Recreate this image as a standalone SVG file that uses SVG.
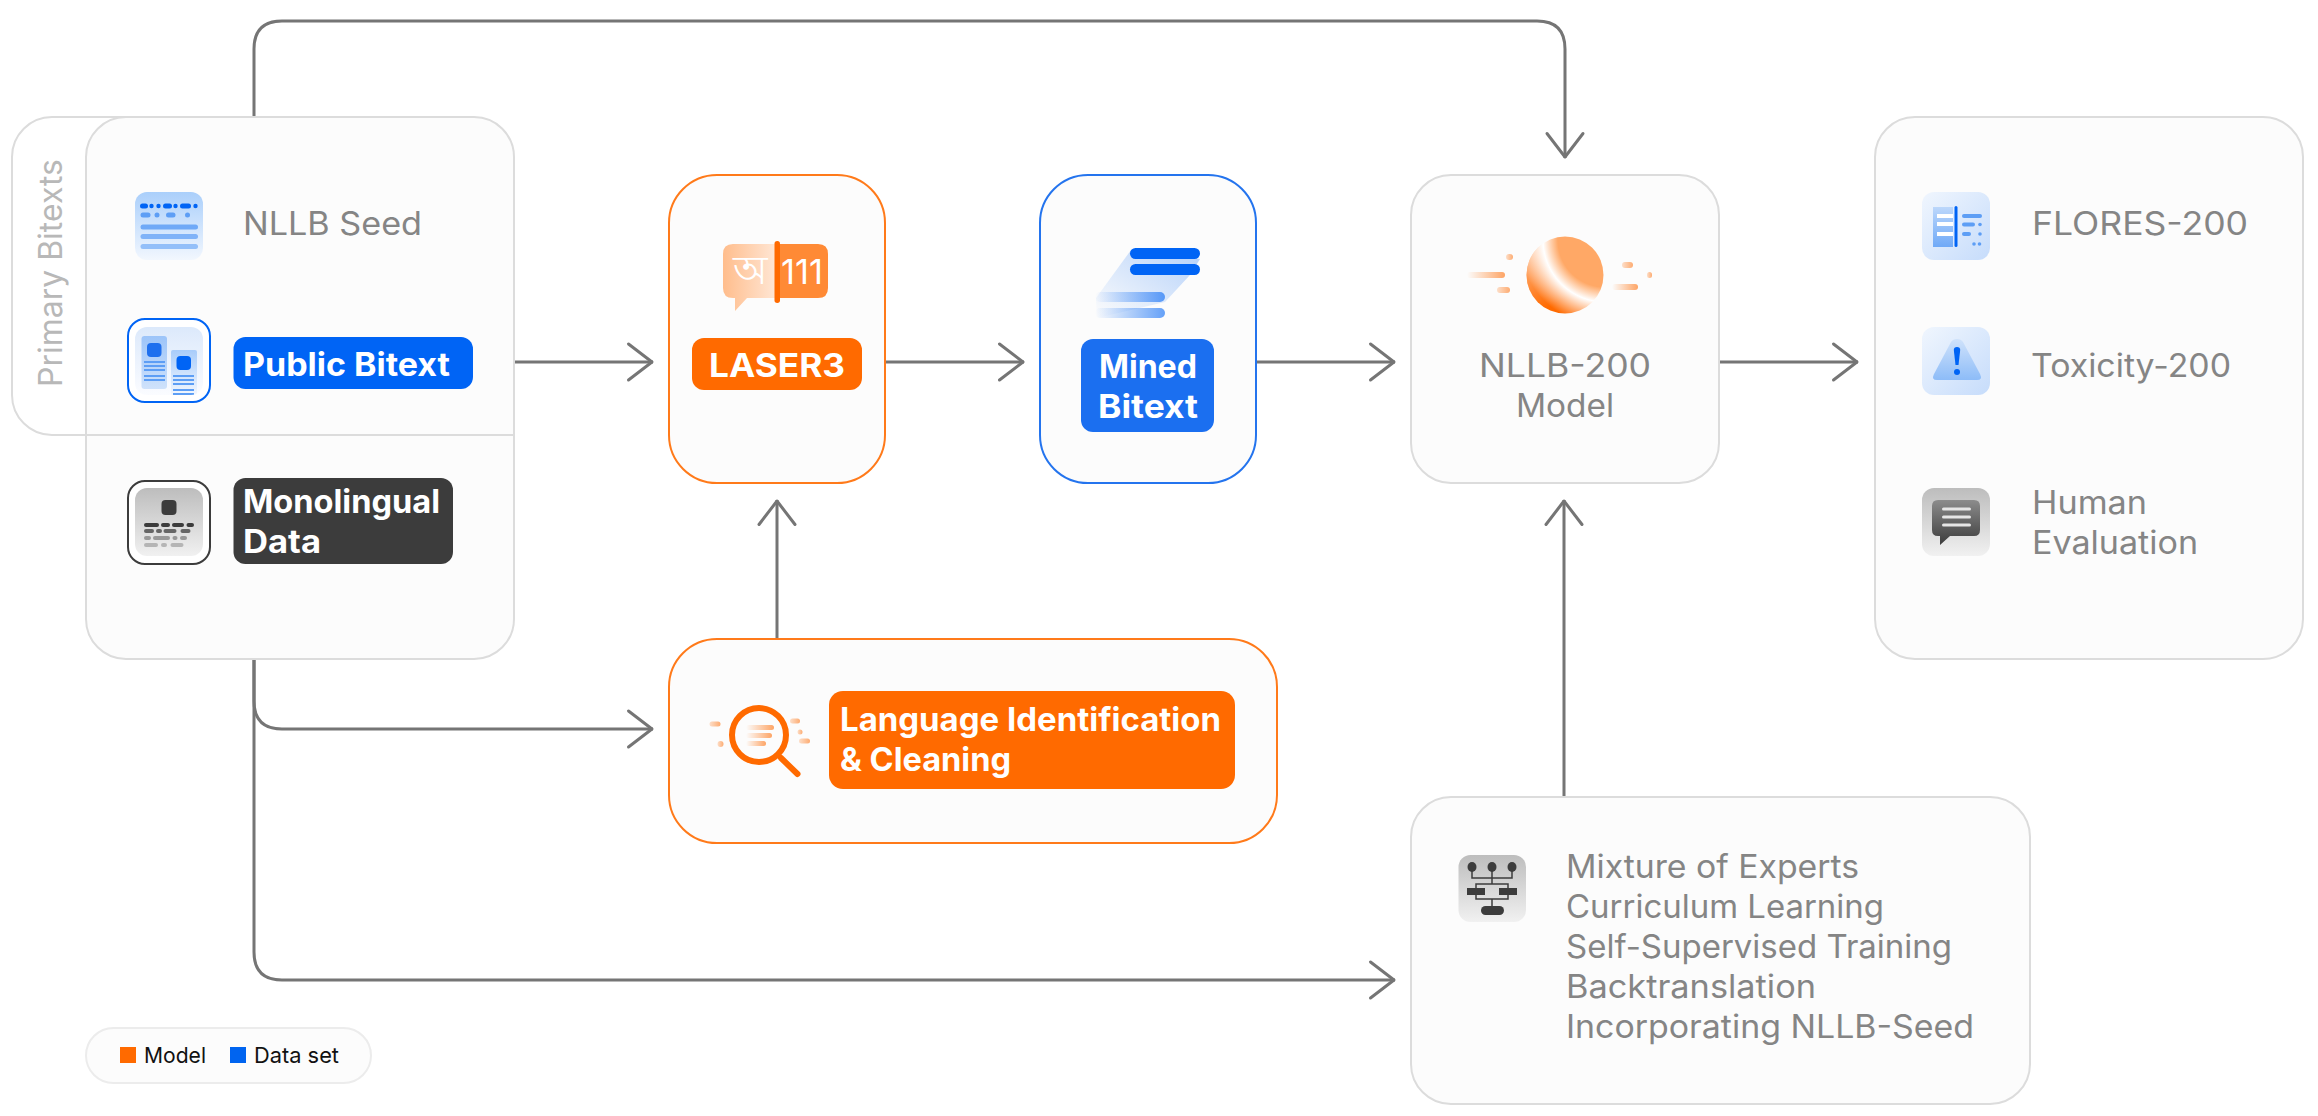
<svg xmlns="http://www.w3.org/2000/svg" width="2318" height="1116" viewBox="0 0 2318 1116">
<style>
text{font-family:"Inter","Noto Sans","Liberation Sans",sans-serif}
.panel{fill:#fcfcfc;stroke:#dcdcdc;stroke-width:2}
.t{font-size:32px;fill:#858585}
.l{font-size:32px;font-weight:700;fill:#fff}
.c{fill:none;stroke:#757575;stroke-width:3;marker-end:url(#arrow)}
.w{fill:#fff}
.or{fill:#ff6a00}
.bl{fill:#0064f5}
.dk{fill:#3c3c3c}
</style>
<defs>
<marker id="arrow" markerUnits="userSpaceOnUse" markerWidth="32" markerHeight="44" refX="28" refY="22" orient="auto"><path d="M3.500 4 L27 22 L3.500 40" fill="none" stroke="#757575" stroke-width="3" stroke-linecap="round" stroke-linejoin="round"/></marker>
<linearGradient id="gSeed" x1="0" y1="0" x2="0" y2="1"><stop offset="0" stop-color="#aacffb"/><stop offset="1" stop-color="#f2f7fe"/></linearGradient>
<linearGradient id="gPub" x1="0" y1="0" x2="0" y2="1"><stop offset="0" stop-color="#dce9fb"/><stop offset="1" stop-color="#fbfcff"/></linearGradient>
<linearGradient id="gDoc" x1="0" y1="0" x2="0" y2="1"><stop offset="0" stop-color="#9cc4f9"/><stop offset="1" stop-color="#cfe2fb"/></linearGradient>
<linearGradient id="gDoc2" x1="0" y1="0" x2="0" y2="1"><stop offset="0" stop-color="#a8ccfa"/><stop offset="1" stop-color="#f4f8fe"/></linearGradient>
<linearGradient id="gGray" x1="0" y1="0" x2="0" y2="1"><stop offset="0" stop-color="#bdbdbd"/><stop offset="1" stop-color="#f1f1f1"/></linearGradient>
<linearGradient id="gBlueD" x1="0" y1="0" x2="1" y2="1"><stop offset="0" stop-color="#f0f6fe"/><stop offset="1" stop-color="#c6dcfb"/></linearGradient>
<linearGradient id="gTri" x1="0" y1="0" x2="0" y2="1"><stop offset="0" stop-color="#cfe2fb"/><stop offset="1" stop-color="#8dbcf8"/></linearGradient>
<linearGradient id="gPanelB" x1="0" y1="0" x2="0" y2="1"><stop offset="0" stop-color="#bcd7fb"/><stop offset="1" stop-color="#6fa9f7"/></linearGradient>
<linearGradient id="gBub" x1="0" y1="0" x2="1" y2="0"><stop offset="0" stop-color="#ffbd8c"/><stop offset="0.5" stop-color="#ffe6d4"/><stop offset="0.5" stop-color="#ff8a35"/><stop offset="1" stop-color="#ff8a35"/></linearGradient>
<linearGradient id="gChat" x1="0" y1="0" x2="0" y2="1"><stop offset="0" stop-color="#8c8c8c"/><stop offset="1" stop-color="#3c3c3c"/></linearGradient>
<linearGradient id="gBar" x1="0" y1="0" x2="1" y2="0"><stop offset="0" stop-color="#0064f5" stop-opacity="0"/><stop offset="1" stop-color="#0064f5" stop-opacity=".6"/></linearGradient>
<linearGradient id="gSheet" x1="1" y1="0" x2="0" y2="1"><stop offset="0" stop-color="#9cc2f9"/><stop offset="1" stop-color="#fcfcfc"/></linearGradient>
<linearGradient id="gOL" x1="0" y1="0" x2="1" y2="0"><stop offset="0" stop-color="#ff6a00" stop-opacity="0"/><stop offset="1" stop-color="#ff6a00" stop-opacity=".6"/></linearGradient>
<linearGradient id="gOP" x1="0" y1="0" x2="1" y2="0"><stop offset="0" stop-color="#ff6a00" stop-opacity=".2"/><stop offset="1" stop-color="#ff6a00" stop-opacity=".55"/></linearGradient>
<radialGradient id="gOuter" gradientUnits="userSpaceOnUse" cx="1605" cy="240" r="86"><stop offset="0.72" stop-color="#fff"/><stop offset="1" stop-color="#ff6a00"/></radialGradient>
<linearGradient id="gVeil" gradientUnits="userSpaceOnUse" x1="1532" y1="245" x2="1562" y2="300"><stop offset="0" stop-color="#fff" stop-opacity=".55"/><stop offset="1" stop-color="#fff" stop-opacity="0"/></linearGradient>
<radialGradient id="gInner" gradientUnits="userSpaceOnUse" cx="1605" cy="240" r="62"><stop offset="0.76" stop-color="#ffa866"/><stop offset="1" stop-color="#fff"/></radialGradient>
<clipPath id="sphere"><circle cx="1565" cy="275" r="38.500"/></clipPath>
<clipPath id="pubClip"><rect x="135" y="327" width="68" height="68" rx="12"/></clipPath>
</defs>

<g id="primary-bitexts">
<rect x="12" y="117" width="300" height="318" rx="40" fill="#fff" stroke="#dcdcdc" stroke-width="2"/>
</g>

<g id="connectors">
<path class="c" d="M254 117 V49 Q254 21 282 21 H1537 Q1565 21 1565 49 V158"/>
<path class="c" d="M514 362 H653"/>
<path class="c" d="M885 362 H1024"/>
<path class="c" d="M1256 362 H1395"/>
<path class="c" d="M1719 362 H1858"/>
<path class="c" d="M777 638 V500"/>
<path class="c" d="M1564 797 V500"/>
<path class="c" d="M254 659 V701 Q254 729 282 729 H653"/>
<path class="c" d="M254 659 V952 Q254 980 282 980 H1395"/>
</g>

<g id="data-panel">
<rect class="panel" x="86" y="117" width="428" height="542" rx="40"/>
<path d="M86 435 H514" stroke="#dcdcdc" stroke-width="2"/>
<text class="t" transform="translate(62 387) rotate(-90)" textLength="228" lengthAdjust="spacingAndGlyphs" style="fill:#b8b8b8">Primary Bitexts</text>
</g>

<g id="nllb-seed">
<rect x="135" y="192" width="68" height="68" rx="12" fill="url(#gSeed)"/>
<g class="bl"><rect x="140" y="203.500" width="8" height="5" rx="2.500"/><circle cx="151.500" cy="206" r="2.200"/><circle cx="158.500" cy="206" r="2.200"/><rect x="163" y="203.500" width="9" height="5" rx="2.500"/><circle cx="175.500" cy="206" r="2.200"/><rect x="180" y="203.500" width="11" height="5" rx="2.500"/><circle cx="195.500" cy="206" r="2.200"/></g>
<g fill="#5d9ef5"><rect x="140.500" y="212.500" width="10" height="5" rx="2.500"/><circle cx="157" cy="215" r="2.500"/><rect x="166" y="212.500" width="9.500" height="5" rx="2.500"/><circle cx="187.500" cy="215" r="2.500"/></g>
<rect x="140.500" y="224.500" width="57.500" height="5" rx="2.500" fill="#6fa9f7"/>
<rect x="140.500" y="234" width="57.500" height="5" rx="2.500" fill="#80b3f8"/>
<rect x="140.500" y="244" width="57.500" height="5" rx="2.500" fill="#93bff9"/>
<text class="t" x="243" y="235" textLength="179" lengthAdjust="spacingAndGlyphs">NLLB Seed</text>
</g>

<g id="public-bitext">
<rect x="128" y="319" width="82" height="83" rx="17" fill="#fff" stroke="#0064f5" stroke-width="2"/>
<rect x="135" y="327" width="68" height="68" rx="12" fill="url(#gPub)"/>
<g clip-path="url(#pubClip)">
<rect x="141.500" y="336" width="25.500" height="53" rx="3" fill="url(#gDoc)"/>
<rect x="147" y="343" width="14.500" height="14" rx="4" fill="#1e6fee"/>
<g fill="#5d9ef5"><rect x="144" y="361" width="21" height="2"/><rect x="144" y="365" width="21" height="2"/><rect x="144" y="369" width="21" height="2"/><rect x="144" y="375" width="21" height="2"/><rect x="144" y="379" width="21" height="2"/></g>
<rect x="171" y="350" width="26" height="46" rx="2" fill="url(#gDoc2)"/>
<rect x="176.500" y="356" width="14.500" height="14" rx="4" fill="#0064f5"/>
<g fill="#5d9ef5"><rect x="173" y="375" width="21" height="2"/><rect x="173" y="379" width="21" height="2"/><rect x="173" y="383" width="21" height="2"/><rect x="173" y="389" width="21" height="2"/><rect x="173" y="393" width="21" height="2"/></g>
</g>
<rect class="bl" x="233.500" y="337" width="239.500" height="52" rx="12"/>
<text class="l" x="243" y="376" textLength="207" lengthAdjust="spacingAndGlyphs">Public Bitext</text>
</g>

<g id="monolingual-data">
<rect x="128" y="481" width="82" height="83" rx="17" fill="#fff" stroke="#3c3c3c" stroke-width="2"/>
<rect x="135" y="488" width="68" height="68" rx="12" fill="url(#gGray)"/>
<rect class="dk" x="161.500" y="500" width="15" height="15" rx="4"/>
<g fill="#3c3c3c"><rect x="144" y="523" width="15" height="4" rx="2"/><rect x="161" y="523" width="9" height="4" rx="2"/><rect x="172" y="523" width="12" height="4" rx="2"/><rect x="186.500" y="523" width="7.500" height="4" rx="2"/></g>
<g fill="#666"><rect x="144" y="529" width="10" height="4" rx="2"/><rect x="156" y="529" width="6" height="4" rx="2"/><rect x="163.500" y="529" width="13" height="4" rx="2"/><rect x="180.500" y="529" width="10" height="4" rx="2"/></g>
<g fill="#999"><rect x="144" y="536" width="7" height="4" rx="2"/><rect x="153" y="536" width="17" height="4" rx="2"/><rect x="172.500" y="536" width="5" height="4" rx="2"/><rect x="180" y="536" width="7" height="4" rx="2"/></g>
<g fill="#b5b5b5"><rect x="144" y="543" width="14" height="4" rx="2"/><rect x="161" y="543" width="6" height="4" rx="2"/><rect x="170.500" y="543" width="13" height="4" rx="2"/></g>
<rect class="dk" x="233.500" y="478" width="219.500" height="86" rx="12"/>
<text class="l" x="243" y="513" textLength="197" lengthAdjust="spacingAndGlyphs">Monolingual</text>
<text class="l" x="243" y="553" textLength="78" lengthAdjust="spacingAndGlyphs">Data</text>
</g>

<g id="laser3">
<rect x="669" y="175" width="216" height="308" rx="48" fill="#fcfcfc" stroke="#ff7a1a" stroke-width="2"/>
<path d="M733 298 H735 V311 L747 298 H818 Q828 298 828 288 V254 Q828 244 818 244 H733 Q723 244 723 254 V288 Q723 298 733 298Z" fill="url(#gBub)"/>
<text x="750" y="284" font-size="40" fill="#fff" text-anchor="middle" style="font-family:'Noto Sans CJK SC','Noto Sans',sans-serif">অ</text>
<rect class="or" x="774.500" y="241" width="5.500" height="62" rx="2.700"/>
<text x="781" y="284" font-size="34" fill="#fff" textLength="42" lengthAdjust="spacingAndGlyphs">111</text>
<rect class="or" x="692" y="338" width="170" height="52" rx="12"/>
<text class="l" x="777" y="377" text-anchor="middle" textLength="136" lengthAdjust="spacingAndGlyphs">LASER3</text>
</g>

<g id="mined-bitext">
<rect x="1040" y="175" width="216" height="308" rx="48" fill="#fcfcfc" stroke="#2474ee" stroke-width="2"/>
<path d="M1131 250 L1096 298 L1097 318 L1165 302 L1190 275 L1200 259 Z" fill="url(#gSheet)" opacity=".75"/>
<rect x="1130" y="248" width="70" height="11" rx="5.500" class="bl"/>
<rect x="1130" y="264" width="70" height="11" rx="5.500" class="bl"/>
<rect x="1095" y="292" width="70" height="10" rx="5" fill="url(#gBar)"/>
<rect x="1095" y="308" width="70" height="10" rx="5" fill="url(#gBar)"/>
<rect x="1081" y="339" width="133" height="93" rx="12" fill="#1b6ff0"/>
<text class="l" x="1148" y="378" text-anchor="middle" textLength="98" lengthAdjust="spacingAndGlyphs">Mined</text>
<text class="l" x="1148" y="418" text-anchor="middle" textLength="100" lengthAdjust="spacingAndGlyphs">Bitext</text>
</g>

<g id="language-identification">
<rect x="669" y="639" width="608" height="204" rx="48" fill="#fcfcfc" stroke="#ff7a1a" stroke-width="2"/>
<circle cx="759" cy="735" r="27" fill="none" stroke="#ff6a00" stroke-width="6"/>
<path d="M781 758 L797.500 774" stroke="#ff6a00" stroke-width="6" stroke-linecap="round"/>
<g fill="url(#gOL)"><rect x="746" y="725" width="28" height="5" rx="2.500"/><rect x="746" y="733" width="26" height="5" rx="2.500"/><rect x="746" y="741" width="20" height="5" rx="2.500"/></g>
<g fill="url(#gOP)"><rect x="709.500" y="721.500" width="11" height="5" rx="2.500"/><circle cx="720.500" cy="744" r="3"/><rect x="790" y="718.500" width="10" height="5" rx="2.500"/><circle cx="800" cy="732" r="2.500"/><rect x="799" y="738.500" width="11" height="5" rx="2.500"/></g>
<rect class="or" x="829" y="691" width="406" height="98" rx="14"/>
<text class="l" x="840" y="731" textLength="381" lengthAdjust="spacingAndGlyphs">Language Identification</text>
<text class="l" x="840" y="771" textLength="171" lengthAdjust="spacingAndGlyphs">&amp; Cleaning</text>
</g>

<g id="nllb-200-model">
<rect class="panel" x="1411" y="175" width="308" height="308" rx="40"/>
<g clip-path="url(#sphere)">
<rect x="1520" y="230" width="90" height="90" fill="url(#gOuter)"/>
<rect x="1520" y="230" width="90" height="90" fill="url(#gVeil)"/>
<circle cx="1605" cy="240" r="62" fill="url(#gInner)"/>
</g>
<g fill="url(#gOL)"><rect x="1467" y="272" width="38" height="6" rx="3"/><rect x="1612" y="284" width="26" height="6" rx="3"/></g>
<g fill="url(#gOP)"><rect x="1497" y="287" width="13" height="6" rx="3"/><rect x="1506" y="254" width="7" height="6" rx="3"/><rect x="1622" y="262" width="11" height="6" rx="3"/><rect x="1647" y="272" width="5" height="6" rx="2.500"/></g>
<text class="t" x="1565" y="377" text-anchor="middle" textLength="172" lengthAdjust="spacingAndGlyphs">NLLB-200</text>
<text class="t" x="1565" y="417" text-anchor="middle" textLength="98" lengthAdjust="spacingAndGlyphs">Model</text>
</g>

<g id="evaluation-panel">
<rect class="panel" x="1875" y="117" width="428" height="542" rx="40"/>
</g>

<g id="flores-200">
<rect x="1922" y="192" width="68" height="68" rx="12" fill="url(#gBlueD)"/>
<rect x="1933" y="207" width="20" height="40" fill="url(#gPanelB)"/>
<g class="w"><rect x="1937" y="214" width="16" height="4"/><rect x="1937" y="222" width="16" height="4"/><rect x="1937" y="232" width="16" height="4"/></g>
<rect class="bl" x="1954.500" y="206" width="3" height="41" rx="1.500"/>
<g fill="#5d9ef5"><rect x="1962" y="214" width="20" height="4" rx="2"/><rect x="1962" y="222.500" width="13" height="4" rx="2"/><rect x="1962" y="232" width="9" height="4" rx="2"/><circle cx="1980" cy="224.500" r="1.800"/><circle cx="1980" cy="234" r="1.800"/><circle cx="1974" cy="244" r="1.800"/><circle cx="1979.500" cy="244" r="1.800"/></g>
<text class="t" x="2032" y="235" textLength="216" lengthAdjust="spacingAndGlyphs">FLORES-200</text>
</g>

<g id="toxicity-200">
<rect x="1922" y="327" width="68" height="68" rx="12" fill="url(#gBlueD)"/>
<path d="M1957 339 Q1953 339 1951 342 L1934 374 Q1931 380 1937 380 H1977 Q1983 380 1980 374 L1963 342 Q1961 339 1957 339Z" fill="url(#gTri)"/>
<path d="M1953.800 350 Q1953.800 347 1957 347 Q1960.200 347 1960.200 350 L1958.500 365 H1955.500Z" class="bl"/>
<circle cx="1957" cy="372" r="3" class="bl"/>
<text class="t" x="2031" y="377" textLength="200" lengthAdjust="spacingAndGlyphs">Toxicity-200</text>
</g>

<g id="human-evaluation">
<rect x="1922" y="488" width="68" height="68" rx="12" fill="url(#gGray)"/>
<path d="M1938 500 H1974 Q1980 500 1980 506 V530 Q1980 536 1974 536 H1950 L1940 545 V536 H1938 Q1932 536 1932 530 V506 Q1932 500 1938 500Z" fill="url(#gChat)"/>
<g fill="#e6e6e6"><rect x="1942" y="507.500" width="29" height="3" rx="1.500"/><rect x="1942" y="515.500" width="29" height="3" rx="1.500"/><rect x="1942" y="523.500" width="29" height="3" rx="1.500"/></g>
<text class="t" x="2032" y="514" textLength="115" lengthAdjust="spacingAndGlyphs">Human</text>
<text class="t" x="2032" y="554" textLength="166" lengthAdjust="spacingAndGlyphs">Evaluation</text>
</g>

<g id="training-techniques">
<rect class="panel" x="1411" y="797" width="619" height="307" rx="40"/>
<rect x="1458.500" y="855" width="67.500" height="67" rx="12" fill="url(#gGray)"/>
<g fill="none" stroke="#3c3c3c" stroke-width="1.500"><path d="M1472 867 V878 H1512 V867 M1492 867 V884 M1476 893 V884 H1508 V899 H1476 V893 M1492 899 V906"/></g>
<g class="dk"><ellipse cx="1472" cy="867" rx="4.500" ry="5"/><ellipse cx="1492" cy="867" rx="4.500" ry="5"/><ellipse cx="1512" cy="867" rx="4.500" ry="5"/><rect x="1467" y="888" width="18" height="7"/><rect x="1499" y="888" width="18" height="7"/><rect x="1481" y="906" width="23" height="9" rx="4.500"/></g>
<g class="t"><text x="1566" y="878" textLength="293" lengthAdjust="spacingAndGlyphs">Mixture of Experts</text>
<text x="1566" y="918" textLength="318" lengthAdjust="spacingAndGlyphs">Curriculum Learning</text>
<text x="1566" y="958" textLength="386" lengthAdjust="spacingAndGlyphs">Self-Supervised Training</text>
<text x="1566" y="998" textLength="250" lengthAdjust="spacingAndGlyphs">Backtranslation</text>
<text x="1566" y="1038" textLength="408" lengthAdjust="spacingAndGlyphs">Incorporating NLLB-Seed</text></g>
</g>

<g id="legend">
<rect x="86" y="1028" width="285" height="55" rx="27.500" fill="#fcfcfc" stroke="#ececec" stroke-width="2"/>
<rect class="or" x="120" y="1047" width="16" height="16"/>
<text x="144" y="1063" font-size="22" fill="#111" textLength="62" lengthAdjust="spacingAndGlyphs">Model</text>
<rect x="230" y="1047" width="16" height="16" fill="#0064f0"/>
<text x="254" y="1063" font-size="22" fill="#111" textLength="85" lengthAdjust="spacingAndGlyphs">Data set</text>
</g>
</svg>
